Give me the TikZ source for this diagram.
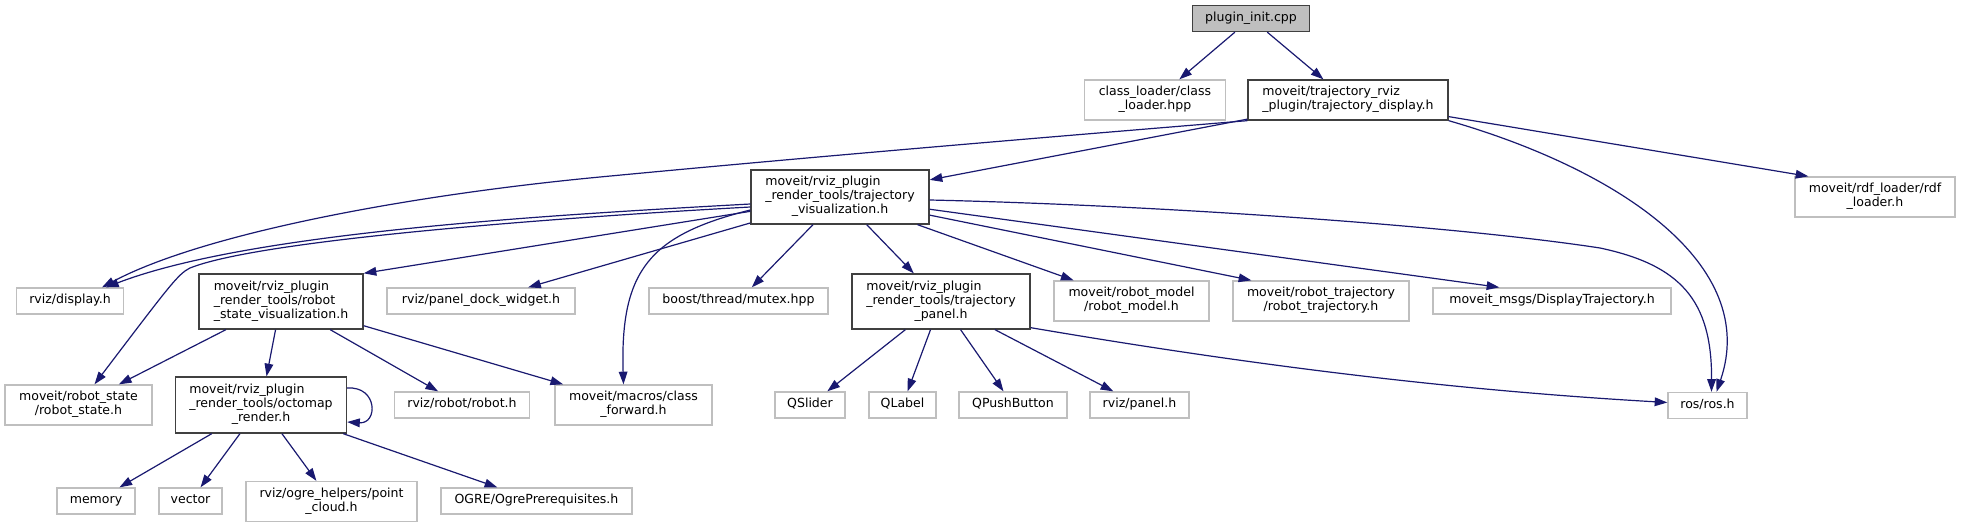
\documentclass[tikz,border=0pt]{standalone}
\usepackage{fontspec}
\setmainfont{DejaVu Sans}
\usetikzlibrary{arrows.meta,calc}
\definecolor{ndborder}{HTML}{404040}
\definecolor{extborder}{HTML}{BFBFBF}
\definecolor{rootfill}{HTML}{BFBFBF}
\definecolor{edgecol}{HTML}{191970}
\newcommand{\onel}[1]{\begin{tabular}{@{}c@{}}#1\end{tabular}}
\newcommand{\twol}[2]{\begin{tabular}{@{}l@{}}#1\\\multicolumn{1}{@{}c@{}}{#2}\end{tabular}}
\newcommand{\threel}[3]{\begin{tabular}{@{}l@{}}#1\\#2\\\multicolumn{1}{@{}c@{}}{#3}\end{tabular}}
\tikzset{
  sz/.style 2 args={minimum width=#1*0.75pt, minimum height=#2*0.75pt},
  basebox/.style={line width=1pt, inner sep=0pt, text=black,
    font=\fontsize{9.4pt}{10.5pt}\selectfont},
  docnode/.style={basebox, draw=ndborder, fill=white},
  extnode/.style={basebox, draw=extborder, fill=white},
  rootnode/.style={basebox, draw=ndborder, fill=rootfill},
  lnk/.style={draw=edgecol, line width=0.9pt, -{Triangle[length=9.5pt,width=6.5pt]}}
}
\begin{document}
\begin{tikzpicture}[x=0.75pt,y=-0.75pt]
\fill[white] (0,0) rectangle (1961,528);
% nodes
\node[rootnode, sz={117}{26}] (root) at (1251,18.5) {\onel{plugin\_init.cpp}};
\node[extnode, sz={141}{40}] (cl) at (1155,100) {\twol{class\_loader/class}{\_loader.hpp}};
\node[docnode, sz={200}{40}] (td) at (1348,100) {\twol{moveit/trajectory\_rviz}{\_plugin/trajectory\_display.h}};
\node[docnode, sz={178}{54}] (tv) at (840,197) {\threel{moveit/rviz\_plugin}{\_render\_tools/trajectory}{\_visualization.h}};
\node[extnode, sz={160}{40}] (rdf) at (1875,197) {\twol{moveit/rdf\_loader/rdf}{\_loader.h}};
\node[extnode, sz={107}{26}] (disp) at (70,301) {\onel{rviz/display.h}};
\node[docnode, sz={164}{55}] (rsv) at (281,301.5) {\threel{moveit/rviz\_plugin}{\_render\_tools/robot}{\_state\_visualization.h}};
\node[extnode, sz={188}{26}] (pdw) at (481,301) {\onel{rviz/panel\_dock\_widget.h}};
\node[extnode, sz={179}{26}] (mutex) at (738.5,301) {\onel{boost/thread/mutex.hpp}};
\node[docnode, sz={178}{55}] (tp) at (941,301.5) {\threel{moveit/rviz\_plugin}{\_render\_tools/trajectory}{\_panel.h}};
\node[extnode, sz={155}{40}] (rm) at (1131.5,301) {\twol{moveit/robot\_model}{/robot\_model.h}};
\node[extnode, sz={176}{40}] (rt) at (1321,301) {\twol{moveit/robot\_trajectory}{/robot\_trajectory.h}};
\node[extnode, sz={238}{26}] (dt) at (1552,301) {\onel{moveit\_msgs/DisplayTrajectory.h}};
\node[extnode, sz={147}{40}] (rs) at (78.5,405) {\twol{moveit/robot\_state}{/robot\_state.h}};
\node[docnode, sz={171}{56}] (om) at (261,405) {\threel{moveit/rviz\_plugin}{\_render\_tools/octomap}{\_render.h}};
\node[extnode, sz={135}{26}] (robot) at (462,405) {\onel{rviz/robot/robot.h}};
\node[extnode, sz={157}{40}] (cf) at (633.5,405) {\twol{moveit/macros/class}{\_forward.h}};
\node[extnode, sz={70}{26}] (qs) at (810,405) {\onel{QSlider}};
\node[extnode, sz={67}{26}] (ql) at (902.5,405) {\onel{QLabel}};
\node[extnode, sz={108}{26}] (qpb) at (1013,405) {\onel{QPushButton}};
\node[extnode, sz={99}{26}] (ph) at (1139.5,405) {\onel{rviz/panel.h}};
\node[extnode, sz={79}{26}] (ros) at (1707.5,405.5) {\onel{ros/ros.h}};
\node[extnode, sz={78}{26}] (mem) at (96,501) {\onel{memory}};
\node[extnode, sz={63}{26}] (vec) at (190.5,501) {\onel{vector}};
\node[extnode, sz={171}{40}] (pc) at (331.5,501.5) {\twol{rviz/ogre\_helpers/point}{\_cloud.h}};
\node[extnode, sz={191}{26}] (ogre) at (536.5,501) {\onel{OGRE/OgrePrerequisites.h}};
% edges from plugin_init
\draw[lnk] (root) -- (cl);
\draw[lnk] (root) -- (td);
% edges from trajectory_display
\draw[lnk] (td) -- (tv);
\draw[lnk] (td.south west) .. controls (1000,141) and (800,158) .. (600,177) .. controls (400,196) and (200,235) .. ([xshift=32*0.75pt]disp.north);
\draw[lnk] (td) -- ([xshift=14*0.75pt]rdf.north west);
\draw[lnk] (td.south east) .. controls (1620,170) and (1760,265) .. ([xshift=9*0.75pt]ros.north);
% edges from trajectory_visualization
\draw[lnk] ([yshift=-7*0.75pt]tv.west) .. controls (550,215) and (250,232) .. ([xshift=36*0.75pt]disp.north);
\draw[lnk] ([yshift=-10*0.75pt]tv.west) .. controls (550,218) and (260,240) .. (190,268) .. controls (178,274) and (170,285) .. ([xshift=16*0.75pt]rs.north);
\draw[lnk] (tv) -- (rsv.north east);
\draw[lnk] (tv) -- (pdw);
\draw[lnk] ([yshift=-13*0.75pt]tv.west) .. controls (650,235) and (620,270) .. ([xshift=-10*0.75pt]cf.north);
\draw[lnk] (tv) -- (mutex);
\draw[lnk] (tv) -- (tp);
\draw[lnk] (tv) -- (rm);
\draw[lnk] (tv) -- ([xshift=19*0.75pt]rt.north west);
\draw[lnk] (tv) -- ([xshift=67*0.75pt]dt.north west);
\draw[lnk] ([yshift=-3*0.75pt]tv.east) .. controls (1150,205) and (1450,225) .. (1600,248) .. controls (1680,265) and (1712,300) .. ([xshift=4*0.75pt]ros.north);
% edges from robot_state_visualization
\draw[lnk] (rsv) -- (rs);
\draw[lnk] (rsv) -- (om);
\draw[lnk] (rsv) -- (robot);
\draw[lnk] (rsv) -- (cf);
% edges from octomap_render
\draw[lnk] ([yshift=17*0.75pt]om.east) .. controls (378,386) and (378,424) .. ([yshift=-17*0.75pt]om.east);
\draw[lnk] (om) -- (mem);
\draw[lnk] (om) -- (vec);
\draw[lnk] (om) -- (pc);
\draw[lnk] (om) -- (ogre);
% edges from trajectory_panel
\draw[lnk] (tp) -- (qs);
\draw[lnk] (tp) -- (ql);
\draw[lnk] (tp) -- (qpb);
\draw[lnk] (tp) -- (ph);
\draw[lnk] ([yshift=2*0.75pt]tp.south east) .. controls (1250,365) and (1450,390) .. ([yshift=3*0.75pt]ros.west);
\end{tikzpicture}
\end{document}
